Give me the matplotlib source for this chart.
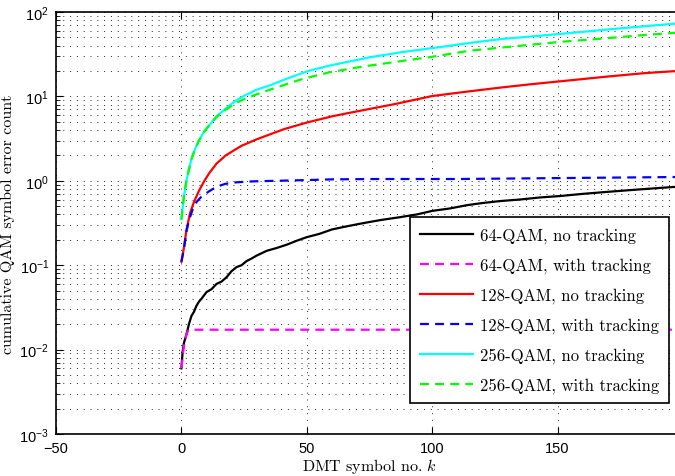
import numpy as np
import matplotlib
matplotlib.use('Agg')
import matplotlib.pyplot as plt
from matplotlib.ticker import LogLocator, NullFormatter

plt.rcParams['mathtext.fontset'] = 'custom'
plt.rcParams['mathtext.rm'] = 'Liberation Sans'
plt.rcParams['mathtext.it'] = 'cmmi10'
plt.rcParams['font.family'] = ['Liberation Sans', 'DejaVu Sans']

# 64-QAM, no tracking
k_64 = [0, 0.5, 1, 2, 3, 4, 5, 6, 7, 8, 10, 12, 14, 16, 18, 20, 22, 24, 26, 28, 30,
        34, 38, 42, 46, 50, 55, 60, 65, 70, 75, 80, 87, 94, 100, 107, 114, 120,
        127, 135, 143, 151, 160, 170, 180, 190, 200]
err_64 = [0.006, 0.0095, 0.012, 0.015, 0.02, 0.025, 0.028, 0.033, 0.037, 0.04, 0.048,
          0.052, 0.06, 0.064, 0.072, 0.085, 0.095, 0.1, 0.112, 0.12, 0.13,
          0.148, 0.16, 0.175, 0.195, 0.215, 0.235, 0.265, 0.285, 0.305, 0.325, 0.345,
          0.37, 0.4, 0.44, 0.47, 0.515, 0.545, 0.575, 0.6, 0.635, 0.66, 0.7,
          0.74, 0.78, 0.82, 0.86]

# 64-QAM, with tracking
k_64t = [0, 1, 2, 3, 200]
err_64t = [0.006, 0.011, 0.0155, 0.0172, 0.0172]

# 128-QAM, no tracking
k_128 = [0, 1, 2, 3.5, 5, 7, 9, 11, 14, 17.5, 21, 24, 30, 37.5, 41, 50, 60, 66,
         75, 85, 100, 115, 128, 140, 154, 170, 185, 200]
err_128 = [0.11, 0.16, 0.26, 0.42, 0.56, 0.76, 0.98, 1.22, 1.6, 1.98, 2.3, 2.6,
           3.1, 3.75, 4.1, 4.9, 5.8, 6.3, 7.1, 8.1, 10.1, 11.5, 12.8, 14.0,
           15.4, 17.2, 18.9, 20.2]

# 128-QAM, with tracking
k_128t = [0, 1, 2, 3, 4.5, 6, 8, 11, 14, 17.5, 22, 27, 31, 38, 50, 60, 78, 110,
          155, 200]
err_128t = [0.11, 0.155, 0.25, 0.34, 0.46, 0.56, 0.65, 0.75, 0.85, 0.92, 0.96,
            0.98, 0.99, 1.0, 1.02, 1.04, 1.05, 1.05, 1.08, 1.11]

# 256-QAM, no tracking
k_256 = [0, 1, 2, 3, 4, 5.5, 7, 9, 11, 14, 17.5, 21, 24, 30, 35.5, 42, 51, 60,
         75, 88, 102, 115, 128, 142, 155, 170, 185, 200]
err_256 = [0.35, 0.65, 1.0, 1.35, 1.8, 2.4, 3.0, 3.8, 4.5, 5.8, 7.1, 8.6, 9.8,
           12.0, 13.6, 16.2, 20.2, 23.5, 29.0, 33.5, 38.0, 43.0, 48.0, 52.0,
           56.4, 62.0, 68.0, 74.0]

# 256-QAM, with tracking
k_256t = [0, 1, 2, 3, 4, 5.5, 7, 9, 11, 14, 17.5, 21, 24, 30, 38, 48, 59, 72,
          86, 100, 115, 130, 152, 170, 185, 200]
err_256t = [0.35, 0.65, 1.0, 1.35, 1.8, 2.4, 3.0, 3.8, 4.5, 5.7, 6.9, 8.1, 9.0,
            10.6, 12.8, 16.0, 19.3, 22.5, 25.8, 29.5, 34.8, 38.5, 44.5, 49.0,
            53.5, 57.5]

fig = plt.figure(figsize=(6.75, 4.77), dpi=100)
ax = fig.add_axes([56 / 675, 42 / 477, (683 - 56) / 675, 422 / 477])

lw = 1.6
dash = (4, 2.8)
ax.plot(k_64, err_64, color='black', lw=lw, label='64-QAM, no tracking')
ax.plot(k_64t, err_64t, color='#ff00ff', lw=lw, dashes=dash, label='64-QAM, with tracking')
ax.plot(k_128, err_128, color='#ff0000', lw=lw, label='128-QAM, no tracking')
ax.plot(k_128t, err_128t, color='#0000ff', lw=lw, dashes=dash, label='128-QAM, with tracking')
ax.plot(k_256, err_256, color='#00ffff', lw=lw, label='256-QAM, no tracking')
ax.plot(k_256t, err_256t, color='#00ff00', lw=lw, dashes=dash, label='256-QAM, with tracking')

ax.set_yscale('log')
ax.set_xlim(-50, 200)
ax.set_ylim(1e-3, 1e2)
ax.set_xticks([-50, 0, 50, 100, 150])
ax.yaxis.set_major_locator(LogLocator(base=10, numticks=10))
ax.yaxis.set_minor_locator(LogLocator(base=10, subs=np.arange(2, 10), numticks=20))
ax.yaxis.set_minor_formatter(NullFormatter())

grid_style = dict(linestyle=(0, (1, 6)), color='#222222', lw=0.7)
ax.grid(True, which='major', axis='both', **grid_style)
ax.grid(True, which='minor', axis='y', **grid_style)
ax.tick_params(which='both', direction='in', top=True, right=True, labelsize=10.5)
ax.tick_params(which='major', length=5, pad=5)
ax.tick_params(which='minor', length=3)
for s in ax.spines.values():
    s.set_linewidth(1.2)

lab_font = dict(family='cmr10', size=11.5)
ax.set_xlabel(r'DMT symbol no. $k$', fontdict=lab_font, labelpad=1)
ax.set_ylabel('cumulative QAM symbol error count', fontdict=lab_font, labelpad=3)

leg = ax.legend(loc='lower right', bbox_to_anchor=(669 / 675, 73 / 477),
                bbox_transform=fig.transFigure, prop={'family': 'cmr10', 'size': 12},
                fancybox=False, framealpha=1, edgecolor='black', handlelength=3.2,
                labelspacing=0.85, borderpad=0.6, handletextpad=0.4, borderaxespad=0)
leg.get_frame().set_linewidth(1.2)

fig.savefig('out.png', dpi=100)
